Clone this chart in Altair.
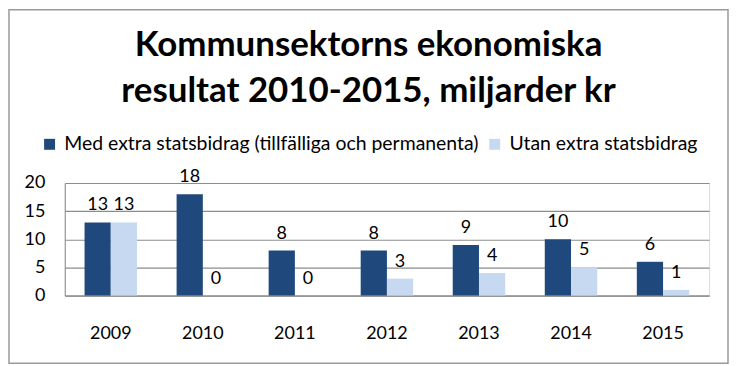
import altair as alt
import pandas as pd

years = ["2009", "2010", "2011", "2012", "2013", "2014", "2015"]
med_extra = [13, 18, 8, 8, 9, 10, 6]
utan_extra = [13, 0, 0, 3, 4, 5, 1]
series_names = ["Med extra statsbidrag (tillfälliga och permanenta)", "Utan extra statsbidrag"]
colors = ["#1F497D", "#C6D9F1"]
title_lines = ["Kommunsektorns ekonomiska", "resultat 2010-2015, miljarder kr"]
y_ticks = [0, 5, 10, 15, 20]

rows = []
for y, a, b in zip(years, med_extra, utan_extra):
    rows.append({"year": y, "series": series_names[0], "value": a})
    rows.append({"year": y, "series": series_names[1], "value": b})
df = pd.DataFrame(rows)

FONT = "Lato"

x_enc = alt.X("year:N", sort=years, title=None,
              scale=alt.Scale(paddingInner=0.43, paddingOuter=0.215),
              axis=alt.Axis(labelAngle=0, labelFontSize=18, labelFont=FONT, labelColor="#000",
                            labelPadding=29, ticks=False, domainColor="#8c8c8c", grid=False))
xo_enc = alt.XOffset("series:N", sort=series_names, scale=alt.Scale(paddingInner=0, paddingOuter=0))
y_enc = alt.Y("value:Q", title=None,
              scale=alt.Scale(domain=[0, 20]),
              axis=alt.Axis(values=y_ticks, labelFontSize=18, labelFont=FONT,
                            labelColor="#000", labelPadding=20, ticks=False, labelOverlap=False,
                            domainColor="#8c8c8c", gridColor="#8c8c8c", gridWidth=1.2))

bars = alt.Chart(df).mark_bar().encode(
    x=x_enc,
    xOffset=xo_enc,
    y=y_enc,
    color=alt.Color("series:N", sort=series_names,
                    scale=alt.Scale(domain=series_names, range=colors),
                    legend=alt.Legend(title=None, orient="none", direction="horizontal",
                                      legendX=-25, legendY=-49, symbolType="square",
                                      symbolSize=121, symbolStrokeWidth=0,
                                      labelFontSize=19.5, labelFont=FONT, labelColor="#000",
                                      labelOffset=5, columnPadding=6, labelLimit=600)),
)

labels = alt.Chart(df).mark_text(dy=-12, baseline="alphabetic", fontSize=18, font=FONT,
                                 color="#000").encode(
    x=x_enc,
    xOffset=xo_enc,
    y=y_enc,
    text=alt.Text("value:Q"),
)

border = alt.Chart(alt.Data(values=[{}])).mark_rect(
    fill=None, stroke="#9a9a9a", strokeWidth=1.5
).encode(
    x=alt.value(-56), x2=alt.value(666),
    y=alt.value(-174), y2=alt.value(181),
)

chart = alt.layer(border, bars, labels).properties(
    width=647, height=113,
    padding={"left": 57, "top": 175, "right": 20, "bottom": 69},
    autosize=alt.AutoSizeParams(type="none"),
    title=alt.TitleParams(text=title_lines, fontSize=35, font=FONT, fontWeight="bold",
                          anchor="middle", frame="bounds", offset=-100, lineHeight=46,
                          color="#000"),
).configure_view(stroke=None).configure(background="white")

chart.save("out.html", embed_options={"renderer": "svg", "actions": False})
